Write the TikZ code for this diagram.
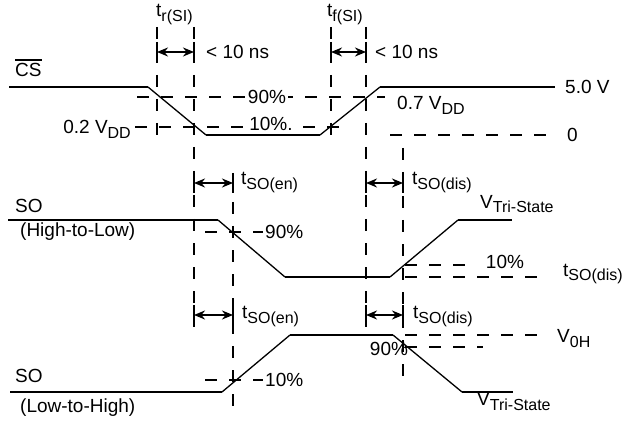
\documentclass[tikz,border=0pt]{standalone}
\usepackage{fontspec}
\setmainfont{Liberation Sans}
\usetikzlibrary{arrows.meta}
\newcommand\sbs[1]{\raisebox{-5pt}{\fontsize{16}{17}\selectfont #1}}
\tikzset{
  lbl/.style={inner sep=0pt, font=\fontsize{19}{21}\selectfont},
  guide/.style={line width=2.2pt, dash pattern=on 12pt off 12pt},
  level/.style={line width=2.4pt},
  ramp/.style={line width=1.3pt},
  span/.style={line width=2pt, {Stealth[length=11pt,width=9pt]}-{Stealth[length=11pt,width=9pt]}},
  tick/.style={line width=2.2pt},
}
\begin{document}
\begin{tikzpicture}[x=1pt,y=-1pt]
\useasboundingbox (0,0) rectangle (637,422);
% ---------- vertical guides ----------
\coordinate (v1t) at (157,27);  \coordinate (v1b) at (157,143);
\coordinate (v2t) at (194,27);  \coordinate (v2b) at (194,327);
\coordinate (v3t) at (331,27);  \coordinate (v3b) at (331,145);
\coordinate (v4t) at (366,27);  \coordinate (v4b) at (366,327);
\coordinate (v5t) at (403,148); \coordinate (v5b) at (403,382);
\coordinate (v6t) at (233,202); \coordinate (v6b) at (233,406);
\foreach \v in {v1,v2,v3,v4,v5,v6} \draw[guide] (\v t) -- (\v b);
% ---------- CS waveform ----------
\coordinate (c1) at (9,87);   \coordinate (c2) at (148,87);
\coordinate (c3) at (206,135); \coordinate (c4) at (320,135);
\coordinate (c5) at (380,87);  \coordinate (c6) at (555,87);
\draw[level] (c1) -- (c2);
\draw[ramp] (c2) -- (c3);
\draw[level] (c3) -- (c4);
\draw[ramp] (c4) -- (c5);
\draw[level] (c5) -- (c6);
% CS guides
\coordinate (g90a) at (137,97);  \coordinate (g90b) at (385,97);
\coordinate (g10a) at (135,127); \coordinate (g10b) at (350,127);
\coordinate (g0a) at (390,135);  \coordinate (g0b) at (557,135);
\draw[guide] (g90a) -- (g90b);
\draw[guide] (g10a) -- (g10b);
\draw[guide] (g0a) -- (g0b);
\node[lbl, fill=white, inner sep=2pt] (p90) at (267,97) {90\%};
\node[lbl, fill=white, inner sep=2pt] (p10) at (271,124) {10\%.};
\node[lbl, anchor=west] (v50) at (565,87) {5.0 V};
\node[lbl, anchor=west] (v0) at (567,135) {0};
\node[lbl, anchor=base east] (v02) at (131,134) {0.2 V\sbs{DD}};
\node[lbl, anchor=base west] (v07) at (397,110) {0.7 V\sbs{DD}};
\node[lbl, anchor=west] (cs) at (15,70) {CS};
\draw[line width=1.4pt] ([yshift=3pt]cs.north west) -- ([yshift=3pt]cs.north east);
% rise/fall time arrows
\coordinate (a1l) at (157,52); \coordinate (a1r) at (194,52);
\coordinate (a2l) at (331,52); \coordinate (a2r) at (366,52);
\draw[span] (a1l) -- (a1r);
\draw[span] (a2l) -- (a2r);
\node[lbl, anchor=base west] (tr) at (156,17) {t\sbs{r(SI)}};
\node[lbl, anchor=base west] (tf) at (327,17) {t\sbs{f(SI)}};
\node[lbl, anchor=west] (ns1) at (206,52) {< 10 ns};
\node[lbl, anchor=west] (ns2) at (375,52) {< 10 ns};
% ---------- SO high-to-low ----------
\coordinate (h1) at (8,220);   \coordinate (h2) at (218,220);
\coordinate (h3) at (285,277); \coordinate (h4) at (390,277);
\coordinate (h5) at (458,220); \coordinate (h6) at (512,220);
\draw[level] (h1) -- (h2);
\draw[ramp] (h2) -- (h3);
\draw[level] (h3) -- (h4);
\draw[ramp] (h4) -- (h5);
\draw[level] (h5) -- (h6);
\coordinate (hg90a) at (205,232); \coordinate (hg90b) at (263,232);
\coordinate (hg10a) at (405,265); \coordinate (hg10b) at (475,265);
\coordinate (hgda) at (405,277);  \coordinate (hgdb) at (540,277);
\draw[guide] (hg90a) -- (hg90b);
\draw[guide] (hg10a) -- (hg10b);
\draw[guide] (hgda) -- (hgdb);
\node[lbl, anchor=west] (so1) at (15,206) {SO};
\node[lbl, anchor=west] (hl) at (20,232) {(High-to-Low)};
\node[lbl, anchor=west] (h90) at (265,232) {90\%};
\node[lbl] (h10) at (505,262) {10\%};
\node[lbl, anchor=base west] (tdisr) at (563,276) {t\sbs{SO(dis)}};
\node[lbl, anchor=base west] (vts1) at (480,208) {V\sbs{Tri-State}};
\coordinate (a3l) at (194,183); \coordinate (a3r) at (233,183);
\coordinate (a4l) at (366,183); \coordinate (a4r) at (403,183);
\draw[span] (a3l) -- (a3r);
\draw[span] (a4l) -- (a4r);
\node[lbl, anchor=base west] (ten1) at (241,185) {t\sbs{SO(en)}};
\node[lbl, anchor=base west] (tdis1) at (412,185) {t\sbs{SO(dis)}};
% ---------- SO low-to-high ----------
\coordinate (l1) at (10,392);  \coordinate (l2) at (222,392);
\coordinate (l3) at (290,335); \coordinate (l4) at (393,335);
\coordinate (l5) at (462,392); \coordinate (l6) at (513,392);
\draw[level] (l1) -- (l2);
\draw[ramp] (l2) -- (l3);
\draw[level] (l3) -- (l4);
\draw[ramp] (l4) -- (l5);
\draw[level] (l5) -- (l6);
\coordinate (lg10a) at (205,380); \coordinate (lg10b) at (263,380);
\coordinate (lgoha) at (405,335); \coordinate (lgohb) at (543,335);
\coordinate (lg90a) at (405,347); \coordinate (lg90b) at (483,347);
\draw[guide] (lg10a) -- (lg10b);
\draw[guide] (lgoha) -- (lgohb);
\draw[guide] (lg90a) -- (lg90b);
\node[lbl, anchor=west] (so2) at (15,376) {SO};
\node[lbl, anchor=west] (lh) at (20,408) {(Low-to-High)};
\node[lbl, anchor=west] (l10) at (265,380) {10\%};
\node[lbl] (l90) at (389,349) {90\%};
\node[lbl, anchor=base west] (voh) at (557,342) {V\sbs{0H}};
\node[lbl, anchor=base west] (vts2) at (477,405) {V\sbs{Tri-State}};
\coordinate (a5l) at (194,315); \coordinate (a5r) at (233,315);
\coordinate (a6l) at (366,315); \coordinate (a6r) at (403,315);
\draw[span] (a5l) -- (a5r);
\draw[span] (a6l) -- (a6r);
\node[lbl, anchor=base west] (ten2) at (242,318) {t\sbs{SO(en)}};
\node[lbl, anchor=base west] (tdis2) at (413,318) {t\sbs{SO(dis)}};
% arrow end ticks
\foreach \a in {a1l,a1r,a2l,a2r,a3l,a3r,a4l,a4r,a5l,a5r,a6l,a6r}
  \draw[tick] ([yshift=10pt]\a) -- ([yshift=-10pt]\a);
\end{tikzpicture}
\end{document}
